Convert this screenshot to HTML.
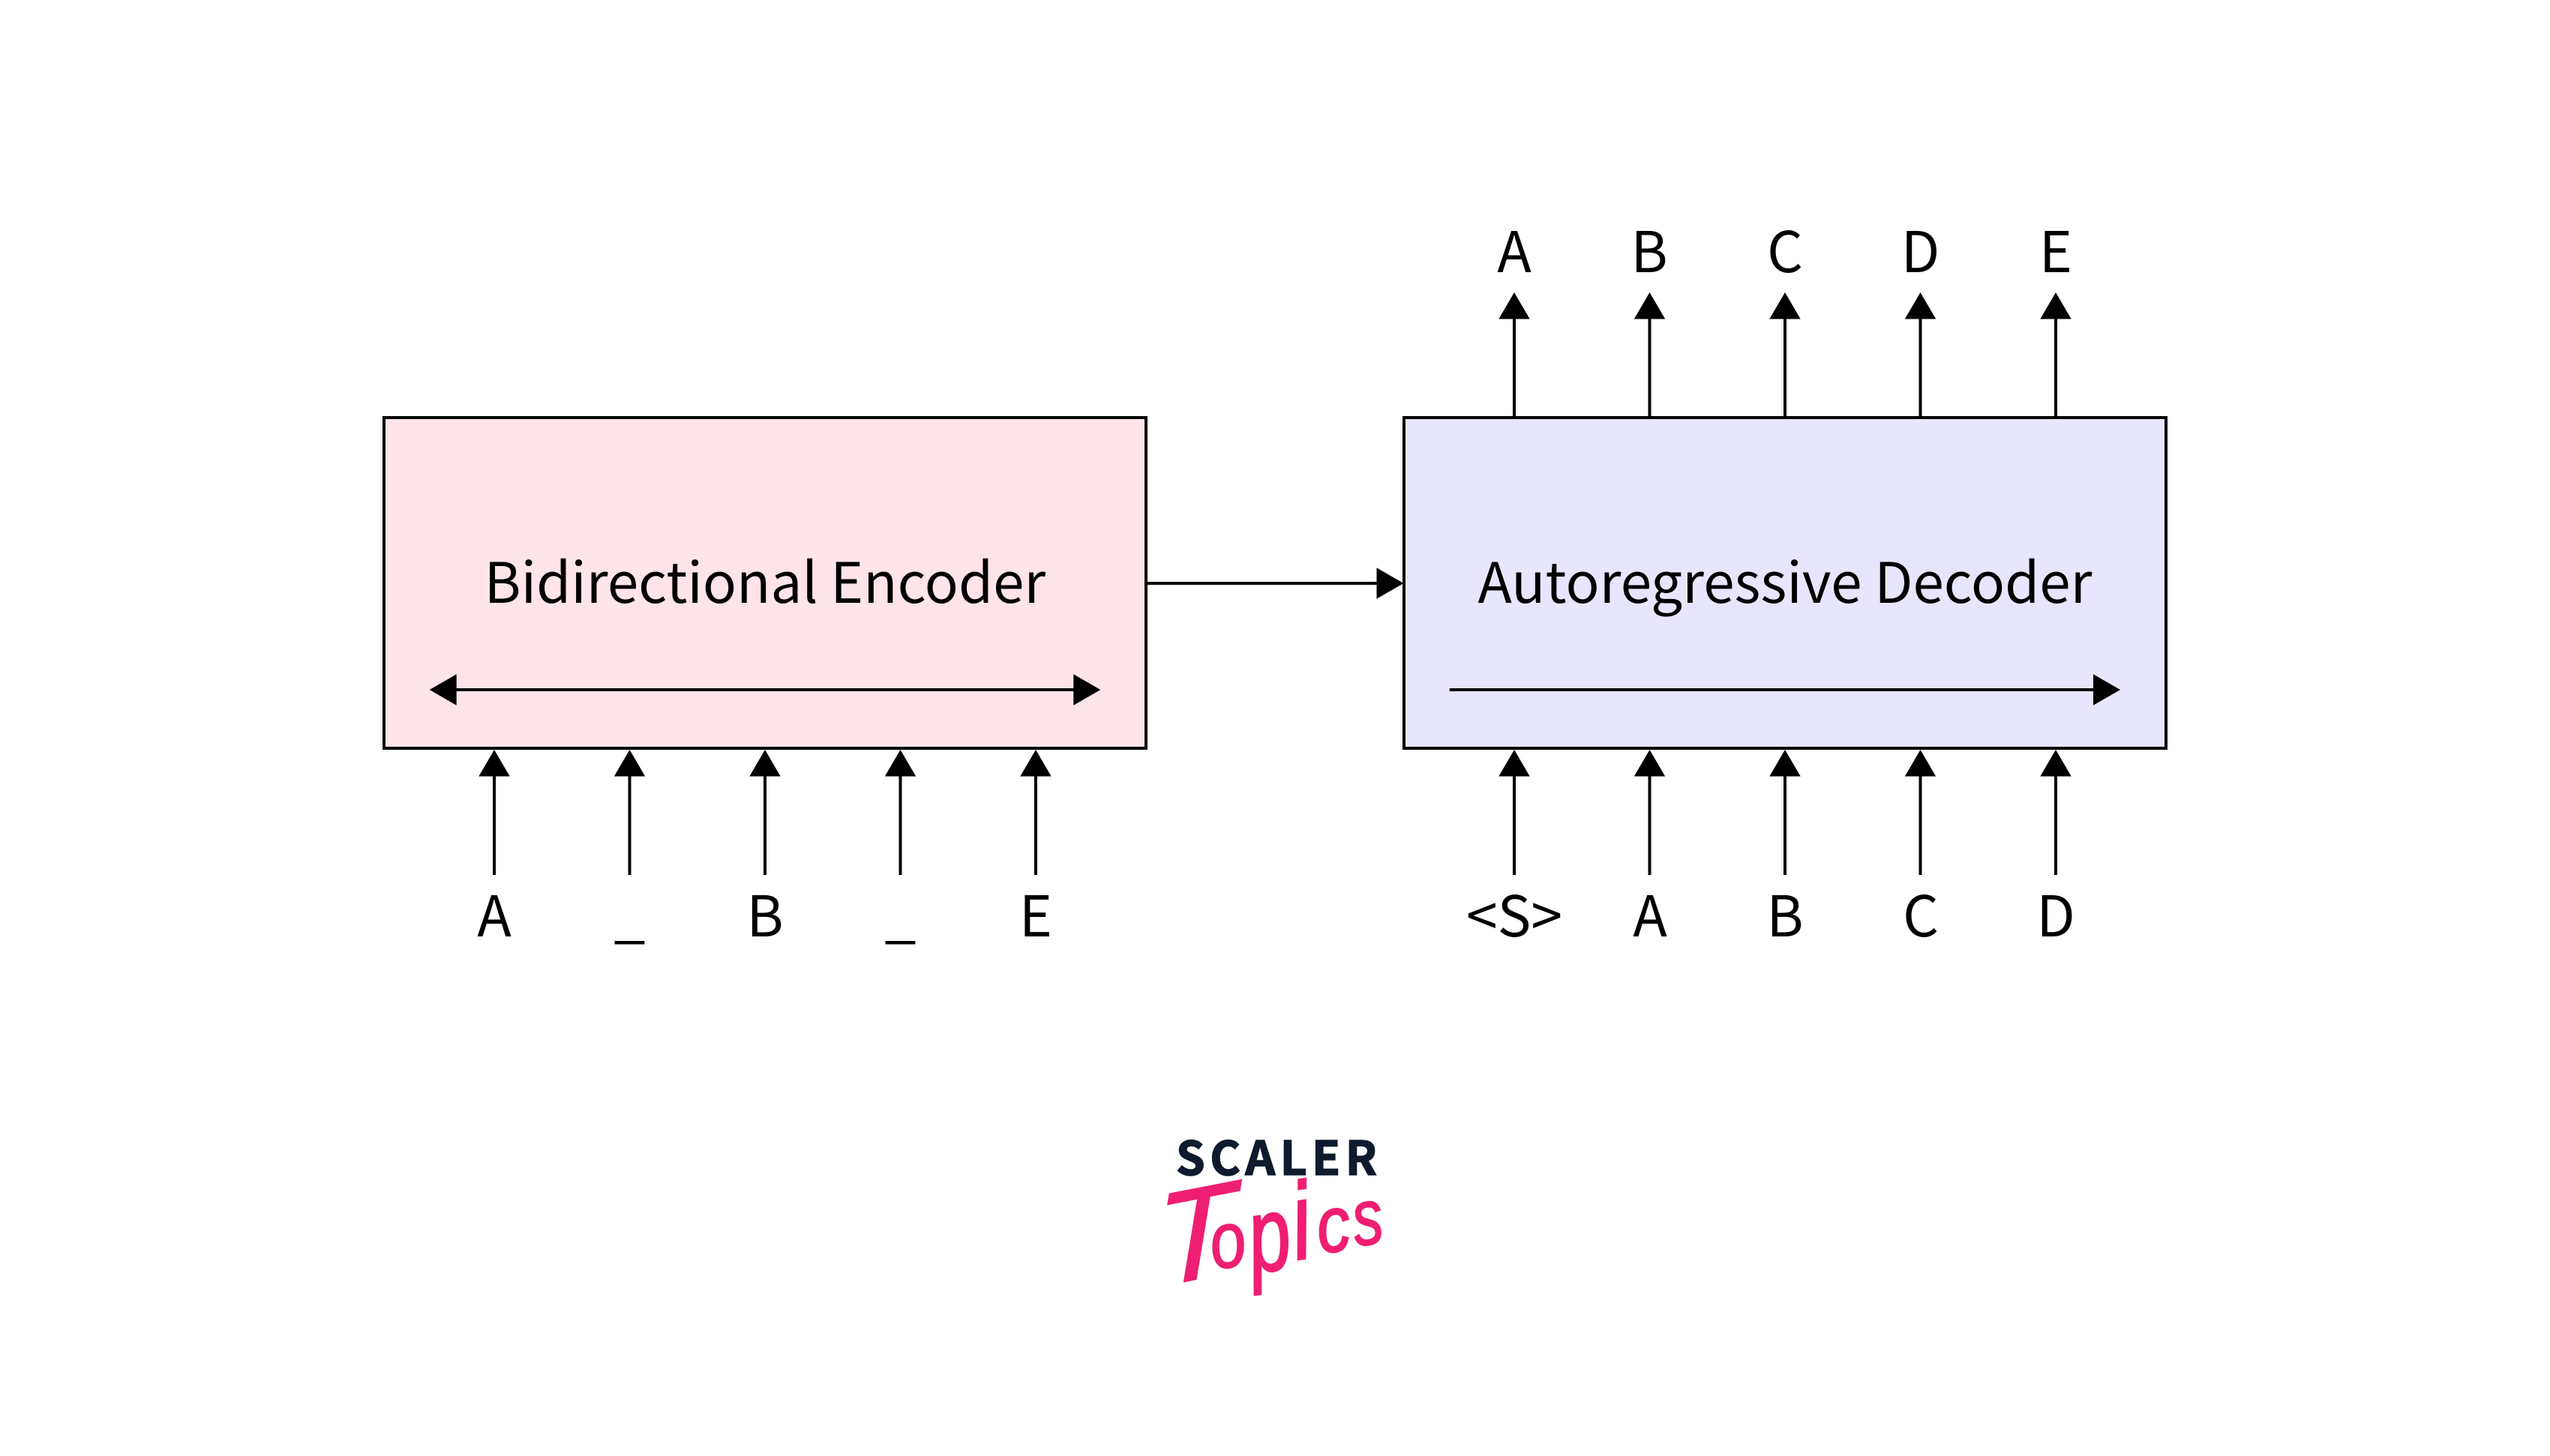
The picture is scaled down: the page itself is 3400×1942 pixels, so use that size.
<!DOCTYPE html>
<html lang="en">
<head>
<meta charset="utf-8">
<title>Bidirectional Encoder and Autoregressive Decoder</title>
<style>
html,body{margin:0;padding:0;background:#fff}
svg{display:block}
text{font-family:"Noto Sans CJK JP","Liberation Sans",sans-serif;fill:#000}
.l{font-size:75px;text-anchor:middle}
.t{font-size:74.5px;text-anchor:middle}
.s{font-family:"Liberation Sans",sans-serif;font-style:italic;fill:#ee1f72;stroke:#ee1f72;stroke-width:2}
</style>
</head>
<body>
<svg xmlns="http://www.w3.org/2000/svg" width="3400" height="1942" viewBox="0 0 3400 1942">
<defs>
<g id="up"><line x1="0" y1="35" x2="0" y2="167" stroke="#000" stroke-width="4"/><polygon points="0,0 20.7,35.5 -20.7,35.5" fill="#000"/></g>
</defs>
<rect width="3400" height="1942" fill="#fff"/>

<rect x="512" y="557" width="1016" height="441" fill="#ffe4ea" stroke="#000" stroke-width="4"/>
<rect x="1872" y="557" width="1016" height="441" fill="#e7e6fe" stroke="#000" stroke-width="4"/>

<text class="t" x="1020" y="804">Bidirectional Encoder</text>
<text class="t" x="2380" y="804">Autoregressive Decoder</text>

<line x1="600" y1="920" x2="1440" y2="920" stroke="#000" stroke-width="4"/>
<polygon points="572.7,920 608.7,899.3 608.7,940.7" fill="#000"/>
<polygon points="1467.3,920 1431.3,899.3 1431.3,940.7" fill="#000"/>

<line x1="1932.7" y1="920" x2="2800" y2="920" stroke="#000" stroke-width="4"/>
<polygon points="2827,920 2791,899.3 2791,940.7" fill="#000"/>

<line x1="1528" y1="778" x2="1845" y2="778" stroke="#000" stroke-width="4"/>
<polygon points="1871.5,778 1835.5,757.3 1835.5,798.7" fill="#000"/>

<use href="#up" x="659" y="1000"/>
<use href="#up" x="839.5" y="1000"/>
<use href="#up" x="1020" y="1000"/>
<use href="#up" x="1200.5" y="1000"/>
<use href="#up" x="1381" y="1000"/>

<use href="#up" x="2019" y="1000"/>
<use href="#up" x="2199.5" y="1000"/>
<use href="#up" x="2380" y="1000"/>
<use href="#up" x="2560.5" y="1000"/>
<use href="#up" x="2741" y="1000"/>

<use href="#up" x="2019" y="390"/>
<use href="#up" x="2199.5" y="390"/>
<use href="#up" x="2380" y="390"/>
<use href="#up" x="2560.5" y="390"/>
<use href="#up" x="2741" y="390"/>

<text class="l" x="2019" y="363">A</text>
<text class="l" x="2199" y="363">B</text>
<text class="l" x="2380" y="363">C</text>
<text class="l" x="2560.5" y="363">D</text>
<text class="l" x="2741" y="363">E</text>

<text class="l" x="659" y="1249">A</text>
<text class="l" x="839.5" y="1249">_</text>
<text class="l" x="1020" y="1249">B</text>
<text class="l" x="1200.5" y="1249">_</text>
<text class="l" x="1381" y="1249">E</text>

<text class="l" x="2019" y="1249">&lt;S&gt;</text>
<text class="l" x="2200" y="1249">A</text>
<text class="l" x="2380" y="1249">B</text>
<text class="l" x="2561" y="1249">C</text>
<text class="l" x="2741" y="1249">D</text>

<text x="1568" y="1567" textLength="268" lengthAdjust="spacing" style="font-family:'Noto Sans CJK JP','Liberation Sans',sans-serif;font-weight:700;font-size:62px;fill:#0e1a2e;stroke:#0e1a2e;stroke-width:1.5">SCALER</text>

<text class="s" font-size="172" transform="translate(1544 1716) rotate(-11) skewX(-10)">T</text>
<text class="s" font-size="100" transform="translate(1618 1693) rotate(-8) scale(.85 1.05)">o</text>
<text class="s" font-size="100" transform="translate(1671 1698) rotate(-8) scale(1 1.4)">p</text>
<text class="s" font-size="100" transform="translate(1729 1680) rotate(-8) scale(1.1 1.45)">i</text>
<text class="s" font-size="100" transform="translate(1760 1672) rotate(-8) scale(.9 1.05)">c</text>
<text class="s" font-size="100" transform="translate(1808 1662) rotate(-8) scale(.8 1.05)">s</text>
</svg>
</body>
</html>
